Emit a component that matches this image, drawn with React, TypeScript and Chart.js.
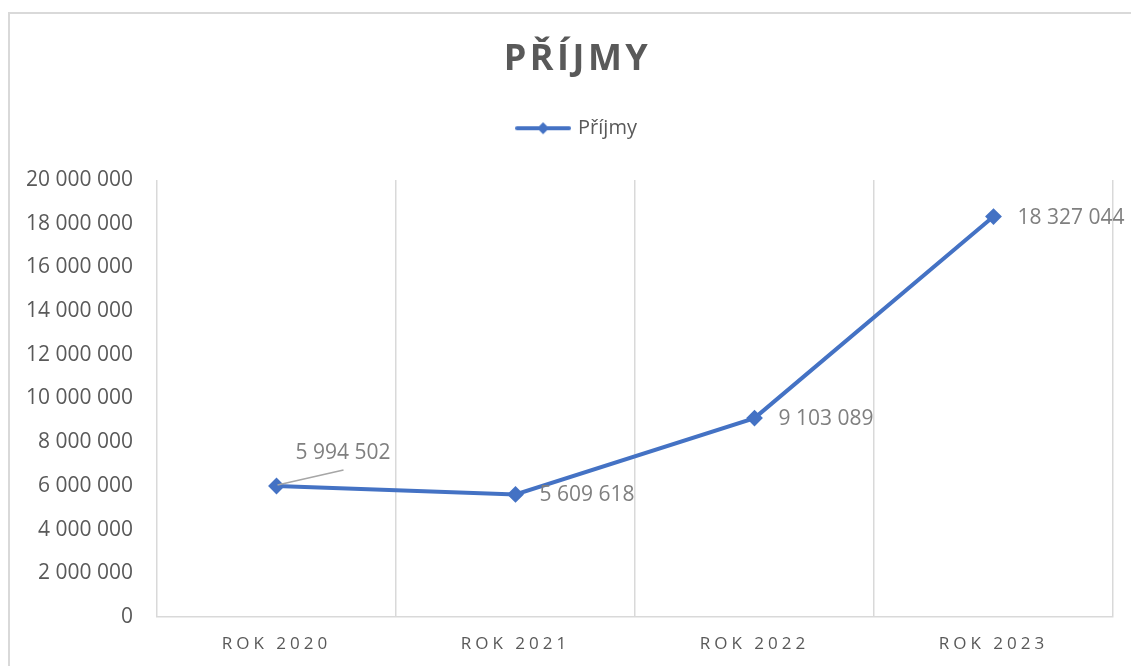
import React, { useEffect, useRef } from "react";
import { Chart, registerables } from "chart.js";

Chart.register(...registerables);

const categories = ["ROK 2020", "ROK 2021", "ROK 2022", "ROK 2023"];
const prijmy = [5994502, 5609618, 9103089, 18327044];
const seriesName = "Příjmy";
const chartTitle = "PŘÍJMY";
const yMin = 0;
const yMax = 20000000;
const yStep = 2000000;

const FONT = "'Open Sans', 'Noto Sans', sans-serif";
const LINE_COLOR = "#4472C4";
const TEXT_COLOR = "#595959";
const LABEL_COLOR = "#7f7f7f";
const GRID_COLOR = "#d9d9d9";

const fmt = (n: number) =>
  Math.round(n)
    .toString()
    .replace(/\B(?=(\d{3})+(?!\d))/g, " ");

const spacingPlugin = {
  id: "letterSpacing",
  beforeDraw(chart: any) {
    const wrap = (obj: any, method: string, sp: string) => {
      if (!obj || obj["__ls_" + method]) return;
      const orig = obj[method];
      obj[method] = function (...args: any[]) {
        const ctx = chart.ctx as any;
        const prev = ctx.letterSpacing;
        ctx.letterSpacing = sp;
        try {
          return orig.apply(this, args);
        } finally {
          ctx.letterSpacing = prev || "0px";
        }
      };
      obj["__ls_" + method] = true;
    };
    wrap(chart.titleBlock, "draw", "3.5px");
    wrap(chart.scales.x, "drawLabels", "4px");
    if (chart.scales.y && !chart.scales.y.__noclip) {
      chart.scales.y._computeLabelArea = () => undefined;
      chart.scales.y.__noclip = true;
    }
  },
};

const legendSpacePlugin = {
  id: "legendSpace",
  beforeInit(chart: any) {
    const legend = chart.legend;
    if (!legend) return;
    const origFit = legend.fit;
    legend.fit = function () {
      origFit.call(this);
      this.height = Math.max(this.height, 98.8);
    };
  },
};

const dataLabelPlugin = {
  id: "dataLabels",
  afterDatasetsDraw(chart: any) {
    const ctx = chart.ctx;
    const meta = chart.getDatasetMeta(0);
    const values = chart.data.datasets[0].data as number[];
    ctx.save();
    ctx.font = `21px ${FONT}`;
    ctx.fillStyle = LABEL_COLOR;
    ctx.textAlign = "left";
    ctx.textBaseline = "middle";
    meta.data.forEach((pt: any, i: number) => {
      const text = fmt(values[i]);
      if (i === 0) {
        ctx.strokeStyle = "#a6a6a6";
        ctx.lineWidth = 1.5;
        ctx.beginPath();
        ctx.moveTo(pt.x + 1, pt.y - 1);
        ctx.lineTo(pt.x + 67, pt.y - 16);
        ctx.stroke();
        ctx.fillText(text, pt.x + 19, pt.y - 33);
      } else {
        ctx.fillText(text, pt.x + 24, pt.y + 1);
      }
    });
    ctx.restore();
  },
};

function makeLegendMarker(): HTMLCanvasElement {
  const mk = document.createElement("canvas");
  mk.width = 56;
  mk.height = 16;
  const c = mk.getContext("2d")!;
  c.strokeStyle = LINE_COLOR;
  c.lineWidth = 4;
  c.lineCap = "round";
  c.beginPath();
  c.moveTo(2, 8);
  c.lineTo(54, 8);
  c.stroke();
  c.fillStyle = LINE_COLOR;
  c.beginPath();
  c.moveTo(28, 2);
  c.lineTo(34, 8);
  c.lineTo(28, 14);
  c.lineTo(22, 8);
  c.closePath();
  c.fill();
  return mk;
}

export default function App() {
  const ref = useRef<HTMLCanvasElement>(null);

  useEffect(() => {
    if (!ref.current) return;
    const marker = makeLegendMarker();
    const chart = new Chart(ref.current, {
      type: "line",
      data: {
        labels: categories,
        datasets: [
          {
            label: seriesName,
            data: prijmy,
            borderColor: LINE_COLOR,
            backgroundColor: LINE_COLOR,
            borderWidth: 4,
            tension: 0,
            pointStyle: "rectRot",
            pointRadius: 7,
            pointBorderWidth: 2,
            pointBackgroundColor: LINE_COLOR,
            pointBorderColor: LINE_COLOR,
            fill: false,
          },
        ],
      },
      options: {
        responsive: false,
        animation: false,
        layout: { padding: { left: 42, right: 18, top: 0, bottom: 0 } },
        plugins: {
          title: {
            display: true,
            text: chartTitle,
            color: TEXT_COLOR,
            font: { family: FONT, size: 36, weight: "bold", lineHeight: 1.2 },
            padding: { top: 38, bottom: 0 },
          },
          legend: {
            display: true,
            position: "top",
            labels: {
              usePointStyle: true,
              pointStyle: marker as any,
              pointStyleWidth: 50,
              color: TEXT_COLOR,
              font: { family: FONT, size: 20 },
              padding: 37,
            },
          },
          tooltip: { enabled: false },
        },
        scales: {
          x: {
            offset: true,
            grid: {
              display: true,
              offset: true,
              color: GRID_COLOR,
              lineWidth: 1.5,
              drawTicks: false,
            },
            border: { display: true, color: GRID_COLOR, width: 1.5 },
            ticks: {
              color: TEXT_COLOR,
              font: { family: FONT, size: 17 },
              padding: 17,
              maxRotation: 0,
            },
            afterFit(scale: any) {
              scale.height = 49;
            },
          },
          y: {
            min: yMin,
            max: yMax,
            grid: { display: false, drawTicks: false },
            border: { display: false },
            ticks: {
              stepSize: yStep,
              color: TEXT_COLOR,
              font: { family: FONT, size: 21 },
              padding: 24,
              callback: (v: any) => fmt(Number(v)),
            },
            afterFit(scale: any) {
              scale.width = 115;
            },
          },
        },
      },
      plugins: [spacingPlugin, legendSpacePlugin, dataLabelPlugin],
    });
    return () => chart.destroy();
  }, []);

  return (
    <div
      style={{
        position: "fixed",
        left: 0,
        top: 0,
        width: 1131,
        height: 666,
        background: "#ffffff",
        overflow: "hidden",
      }}
    >
      <div
        style={{
          position: "absolute",
          left: 8,
          top: 12,
          right: -20,
          bottom: -20,
          border: "2px solid #d9d9d9",
        }}
      />
      <canvas
        ref={ref}
        width={1131}
        height={666}
        style={{ position: "absolute", left: 0, top: 0, display: "block" }}
      />
    </div>
  );
}
